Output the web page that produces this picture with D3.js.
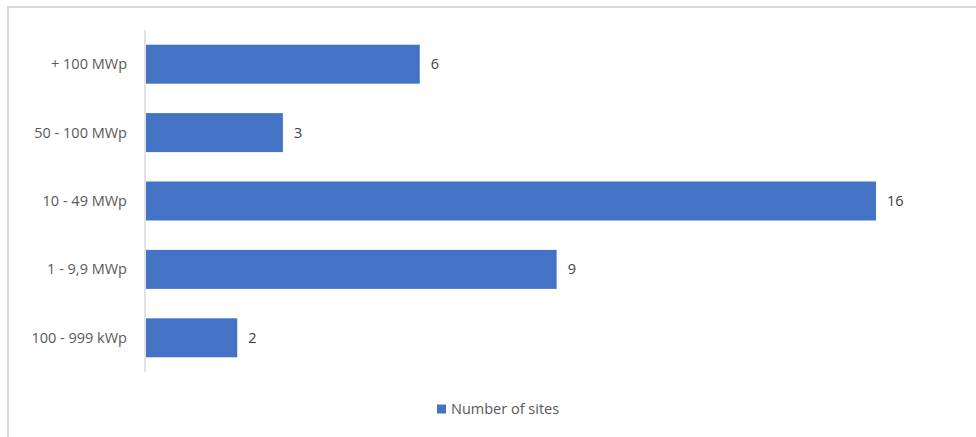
<!DOCTYPE html>
<html>
<head>
<meta charset="utf-8">
<script src="https://cdn.jsdelivr.net/npm/d3@7"></script>
<style>
  body { margin: 0; background: #fff; }
  text { font-family: "Open Sans", sans-serif; }
</style>
</head>
<body>
<svg class="chart" width="976" height="437"></svg>
<script>
let categories = ['+ 100 MWp', '50 - 100 MWp', '10 - 49 MWp', '1 - 9,9 MWp', '100 - 999 kWp']
let sites = [6, 3, 16, 9, 2]
let seriesName = 'Number of sites'

let svg = d3.select('.chart')

// outer frame (only top and left edges fall inside the picture)
svg.append('rect')
    .attr('x', 8).attr('y', 7)
    .attr('width', 1000).attr('height', 500)
    .attr('fill', 'none')
    .attr('stroke', '#d9d9d9')
    .attr('stroke-width', 2)

let x = d3.scaleLinear().domain([0, 16]).range([146, 876])
let y = d3.scaleBand().domain(categories).range([30, 372]).paddingInner(0.43).paddingOuter(0.215)

// category axis
svg.append('line')
    .attr('x1', 145).attr('x2', 145)
    .attr('y1', 30).attr('y2', 372)
    .attr('stroke', '#d9d9d9')
    .attr('stroke-width', 1.5)

svg.selectAll('.cat')
    .data(categories)
    .enter()
    .append('text')
    .attr('class', 'cat')
    .attr('x', 127)
    .attr('y', d => y(d) + y.bandwidth() / 2)
    .attr('dy', '0.35em')
    .attr('text-anchor', 'end')
    .attr('font-size', 14.5)
    .attr('fill', '#595959')
    .text(d => d)

let data = categories.map((c, i) => ({ cat: c, value: sites[i] }))

svg.selectAll('.bar')
    .data(data)
    .enter()
    .append('rect')
    .attr('class', 'bar')
    .attr('x', x(0))
    .attr('y', d => y(d.cat))
    .attr('width', d => x(d.value) - x(0))
    .attr('height', y.bandwidth())
    .attr('fill', '#4472c4')

svg.selectAll('.lbl')
    .data(data)
    .enter()
    .append('text')
    .attr('class', 'lbl')
    .attr('x', d => x(d.value) + 11)
    .attr('y', d => y(d.cat) + y.bandwidth() / 2)
    .attr('dy', '0.35em')
    .attr('font-size', 14.5)
    .attr('fill', '#404040')
    .text(d => d.value)

// legend
let legend = svg.append('g').attr('transform', 'translate(437, 409)')
legend.append('rect')
    .attr('x', 0).attr('y', -4.5)
    .attr('width', 9).attr('height', 9)
    .attr('fill', '#4472c4')
legend.append('text')
    .attr('x', 14)
    .attr('y', 0)
    .attr('dy', '0.35em')
    .attr('font-size', 14.5)
    .attr('fill', '#595959')
    .text(seriesName)
</script>
</body>
</html>
